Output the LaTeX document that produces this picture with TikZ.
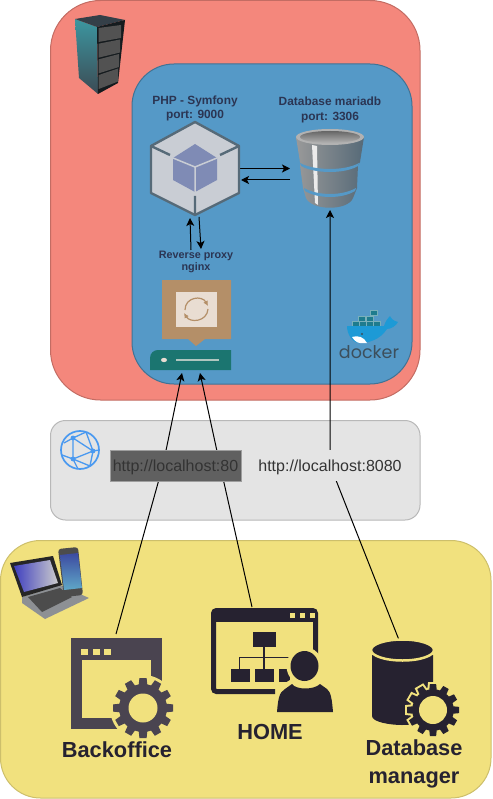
\documentclass[tikz,border=0pt]{standalone}
\usepackage{fontspec}
\setmainfont{Liberation Sans}
\newfontfamily\dockerfont{Poppins}
\usetikzlibrary{arrows.meta}

\definecolor{serverred}{HTML}{F4877C}
\definecolor{dockerblue}{HTML}{5599C7}
\definecolor{netgray}{HTML}{E4E4E4}
\definecolor{clientyellow}{HTML}{F1E17E}
\definecolor{icondark}{HTML}{262230}
\definecolor{iconplum}{HTML}{4A4450}
\definecolor{cubeedge}{HTML}{566A78}
\definecolor{cubeface}{HTML}{C9CDD4}
\definecolor{cubeinner}{HTML}{7F8BB5}
\definecolor{nginxbrown}{HTML}{B48F68}
\definecolor{nginxgreen}{HTML}{1B7570}
\definecolor{whaleblue}{HTML}{1D9AD6}
\definecolor{whalecrate}{HTML}{1E7C8E}
\definecolor{dockertext}{HTML}{3C4F5C}
\definecolor{globeblue}{HTML}{4A99F0}
\definecolor{labeltext}{HTML}{2B3553}

\tikzset{
  boxarea/.style={rounded corners=#1,line width=1pt},
  link/.style={->,line width=1pt},
  smalllabel/.style={align=center,font=\bfseries\fontsize{11.9}{14.5}\selectfont,text=labeltext,inner sep=0pt},
  clientlabel/.style={align=center,font=\bfseries\fontsize{21.8}{28}\selectfont,text=icondark,inner sep=0pt},
  urllabel/.style={font=\fontsize{16}{18}\selectfont,text=black!80,inner sep=0pt,text height=21pt,text depth=10pt},
}

% position, outer radius, hole radius, colour, radius of the round gap
\newcommand{\gearicon}[5]{
  \begin{scope}[shift={#1}]
    \fill[clientyellow] (0,0) circle (#5);
    \foreach \a in {0,30,...,330}
      \filldraw[clientyellow,line width=4pt,rotate=\a] ({0.7*#2},{-0.15*#2}) -- (#2,{-0.12*#2}) -- (#2,{0.12*#2}) -- ({0.7*#2},{0.15*#2}) -- cycle;
    \fill[#4] (0,0) circle ({0.8*#2});
    \foreach \a in {0,30,...,330}
      \fill[#4,rotate=\a] ({0.7*#2},{-0.15*#2}) -- (#2,{-0.12*#2}) -- (#2,{0.12*#2}) -- ({0.7*#2},{0.15*#2}) -- cycle;
    \fill[clientyellow] (0,0) circle (#3);
  \end{scope}
}

\begin{document}
\begin{tikzpicture}[x=1pt,y=-1pt,>={Stealth[length=8pt,width=8pt,inset=2pt]}]
\useasboundingbox (0,0) rectangle (492,799);

% areas
\draw[boxarea=50pt,fill=serverred,draw=serverred!80!black] (50.5,0.5) rectangle (420,400);
\draw[boxarea=42pt,fill=dockerblue,draw=dockerblue!75!black] (132,64) rectangle (412,384);
\draw[boxarea=15pt,fill=netgray,draw=black!28] (50.5,420.5) rectangle (420,520);
\draw[boxarea=40pt,fill=clientyellow,draw=clientyellow!85!black] (0.5,540.5) rectangle (491,798);

% ends of the connectors
\coordinate (backoffice) at (116,634);
\coordinate (home) at (252,607);
\coordinate (dbmanager) at (399,640);
\coordinate (proxyleft) at (182,373);
\coordinate (proxyright) at (200,373);
\coordinate (mariadb) at (330,210);
\coordinate (phpright) at (240,168.5);
\coordinate (dbleft) at (290,168.5);
\coordinate (dbleftlow) at (290,180);
\coordinate (phpleftlow) at (241,180);
\coordinate (phpup) at (190,218);
\coordinate (phpdown) at (199,217);
\coordinate (nginxup) at (191,250);
\coordinate (nginxdown) at (201,249);
\coordinate (bendone) at (163,465);
\coordinate (bendtwo) at (220,465);
\coordinate (bendthree) at (330,465);

\draw[link] (backoffice) -- (bendone) -- (proxyleft);
\draw[link] (home) -- (bendtwo) -- (proxyright);
\draw[link] (dbmanager) -- (bendthree) -- (mariadb);
\draw[link] (phpright) -- (dbleft);
\draw[link] (dbleftlow) -- (phpleftlow);
\draw[link] (nginxup) -- (phpup);
\draw[link] (phpdown) -- (nginxdown);

% urls
\node[urllabel,draw=black!38,fill=black!58!netgray,minimum width=131pt] (urlhttp) at (175.5,465.5) {http://localhost:80};
\node[urllabel,fill=netgray,minimum width=144pt] (urladmin) at (330,465.5) {http://localhost:8080};

% labels
\node[smalllabel] (phplabel) at (195,108.5) {PHP - Symfony\\port: 9000};
\node[smalllabel] (dblabel) at (330,110) {Database mariadb\\port: 3306};
\node[smalllabel,font=\bfseries\fontsize{10.8}{12.5}\selectfont] (proxylabel) at (196,262) {Reverse proxy\\nginx};
\node[clientlabel] (backofficelabel) at (117,750) {Backoffice};
\node[clientlabel] (homelabel) at (270,732) {HOME};
\node[clientlabel] (dbmanagerlabel) at (414,763.5) {Database\\manager};

% server rack
\shade[top color=cubeedge!70!cyan,middle color=black!80!cyan,bottom color=cubeedge!70!black] (75,19) -- (97,27) -- (98,94) -- (79,78) -- cycle;
\fill[cubeedge!60!black] (75,19) -- (100,15) -- (125,20) -- (97,27) -- cycle;
\fill[black!75!cubeedge] (97,27) -- (125,20) -- (118,83) -- (98,94) -- cycle;
\foreach \i in {0,1,2,3}
  \fill[black!68] (98.5,{28+15.7*\i}) -- ({121-\i},{25+14.5*\i}) -- ({121-\i},{38+14.5*\i}) -- (98.5,{42+15.7*\i}) -- cycle;

% php cube
\draw[line width=2.4pt,draw=cubeedge,fill=cubeface,line join=round] (195,122) -- (239,146) -- (239,193) -- (195,215) -- (151,193) -- (151,146) -- cycle;
\fill[cubeinner] (195,144) -- (217,158) -- (217,180) -- (195,192) -- (173,180) -- (173,158) -- cycle;
\draw[line width=1.5pt,cubeface] (173,158) -- (195,167) -- (217,158) (195,167) -- (195,192);
\draw[line width=2.4pt,cubeedge] (151,146) -- (170,155) (239,146) -- (220,155) (195,196) -- (195,215);

% database
\shade[left color=black!40,right color=cubeedge] (296,137) -- (300,162) -- (300,165) -- (303,188) -- (306,198) .. controls (312,211) and (348,211) .. (353,198) -- (357,188) -- (358,165) -- (360,162) -- (364,137) -- cycle;
\fill[black!30] (330,137) ellipse (34 and 8);
\shade[top color=black!60,bottom color=black!30] (330,137) ellipse (30 and 6);
\fill[black!8] (312,145) -- (317,146) -- (318,205) -- (315,203) -- cycle;
\fill[dockerblue] (300,163) .. controls (315,171) and (345,171) .. (359,163) -- (358,166) .. controls (345,174) and (315,174) .. (301,166) -- cycle;
\fill[dockerblue] (304,188) .. controls (318,196) and (342,196) .. (356,188) -- (355,191) .. controls (342,199) and (318,199) .. (305,191) -- cycle;

% nginx
\fill[nginxbrown] (162,280) -- (231,280) -- (231,339) -- (205,339) -- (196,346) -- (188,339) -- (162,339) -- cycle;
\fill[nginxbrown!30!white] (176,292) rectangle (217,327);
\draw[nginxbrown,line width=1.2pt,-{Latex[length=5pt,width=5pt]}] (185,310) .. controls (185,297) and (202,295) .. (208,306);
\draw[nginxbrown,line width=1.2pt,-{Latex[length=5pt,width=5pt]}] (208,309) .. controls (207,322) and (190,323) .. (184,313);
\fill[nginxgreen] (150,370) -- (150,358) .. controls (150,353) and (154,350) .. (158,350) -- (231,350) -- (231,370) -- cycle;
\fill[nginxbrown!30!white] (164,360) ellipse (3 and 2.2);
\draw[nginxbrown!20!white!70!nginxgreen,line width=1.2pt] (176,360) -- (219,360);

% docker
\foreach \x/\y in {358/316,366/316,370/310,352/321,359/321,366/321,373/321}
  \draw[whalecrate!60!white,fill=whalecrate,line width=0.3pt] (\x,\y) rectangle ++(7,5.5);
\fill[whaleblue] (347,326) -- (384,326) .. controls (385,322) and (388,318) .. (390,316) .. controls (391,318) and (393,321) .. (398,322) .. controls (396,326) and (391,329) .. (387,329) .. controls (380,340) and (368,343) .. (360,343) .. controls (352,343) and (347,334) .. (347,326) -- cycle;
\fill[white] (352,337) .. controls (358,335) and (364,337) .. (367,343) -- (360,343) .. controls (357,343) and (354,340) .. (352,337) -- cycle;
\fill[dockertext] (362,334) circle (1.2);
\node[inner sep=0pt,text=dockertext,font=\dockerfont\fontsize{17.5}{20}\selectfont] (dockerlabel) at (369,352) {docker};

% network globe
\draw[line width=1.7pt,globeblue] (80,450) circle (19);
\draw[line width=1.3pt,globeblue] (73,438) -- (93,451) -- (73,459) -- cycle (73,438) -- (64,443) (73,438) -- (86,432) (93,451) -- (86,432) (93,451) -- (99,450) (93,451) -- (90,466) (73,459) -- (62,455) (73,459) -- (78,469) (73,459) -- (90,466);
\foreach \x/\y in {73/438,93/451,73/459}
  \fill[globeblue] (\x,\y) circle (2.4);

% devices
\fill[black!30!cubeface] (22,597) -- (60,585) -- (89,598) -- (45,619) -- (22,603) -- cycle;
\fill[black!70] (28,597) -- (60,588) -- (72,597) -- (42,612) -- cycle;
\fill[black!85] (10,563) -- (53,556) -- (62,585) -- (22,597) -- cycle;
\shade[left color=blue!50!gray,right color=black!20] (14,566) -- (50,560) -- (58,583) -- (24,592) -- cycle;
\fill[black!70,rounded corners=3pt] (58,549) -- (78,547) -- (83,595) -- (64,597) -- cycle;
\shade[top color=cubeedge!70!blue,bottom color=cyan!25!cubeinner] (60,555) -- (78,553) -- (82,588) -- (64,590) -- cycle;

% backoffice window
\fill[iconplum] (71,638) rectangle (162,729);
\fill[clientyellow] (82,660) rectangle (151,718);
\foreach \x in {81,93,104}
  \fill[clientyellow] (\x,649) rectangle ++(6.5,6);
\gearicon{(143,708)}{30}{14.5}{iconplum}{33}

% home window
\draw[icondark,line width=5pt,rounded corners=3pt] (275,691.5) -- (213.5,691.5) -- (213.5,610.5) -- (315.5,610.5) -- (315.5,655);
\fill[icondark] (213,610) rectangle (316,622);
\foreach \x in {290,300,310}
  \fill[clientyellow] (\x,613) rectangle ++(5,5);
\fill[icondark] (253,632) rectangle (276,647);
\draw[icondark,line width=1.6pt] (264,647) -- (264,670) (239.5,670) -- (239.5,657.5) -- (290,657.5);
\foreach \x/\w in {231/19,255/19,279/11}
  \fill[icondark] (\x,669) rectangle ++(\w,13);
\fill[clientyellow] (304.5,666) ellipse (18 and 19);
\fill[clientyellow] (273,714) -- (277,688) -- (290,680) -- (322,680) -- (335,688) -- (337,714) -- cycle;
\fill[icondark] (304.5,666) ellipse (14 and 15);
\fill[icondark] (277,712) .. controls (278,700) and (279,692) .. (285,689) -- (292,684) .. controls (296,690) and (314,690) .. (320,684) -- (327,689) .. controls (331,692) and (332,700) .. (333,712) -- cycle;

% database manager
\fill[icondark] (372,655) -- (372,716) .. controls (372,722) and (390,725) .. (402,725) .. controls (414,725) and (433,722) .. (433,716) -- (433,655) -- cycle;
\draw[clientyellow,line width=2.5pt,fill=icondark] (402.5,650) ellipse (31.5 and 10.5);
\gearicon{(433,710)}{26}{14}{icondark}{23}

\end{tikzpicture}
\end{document}
